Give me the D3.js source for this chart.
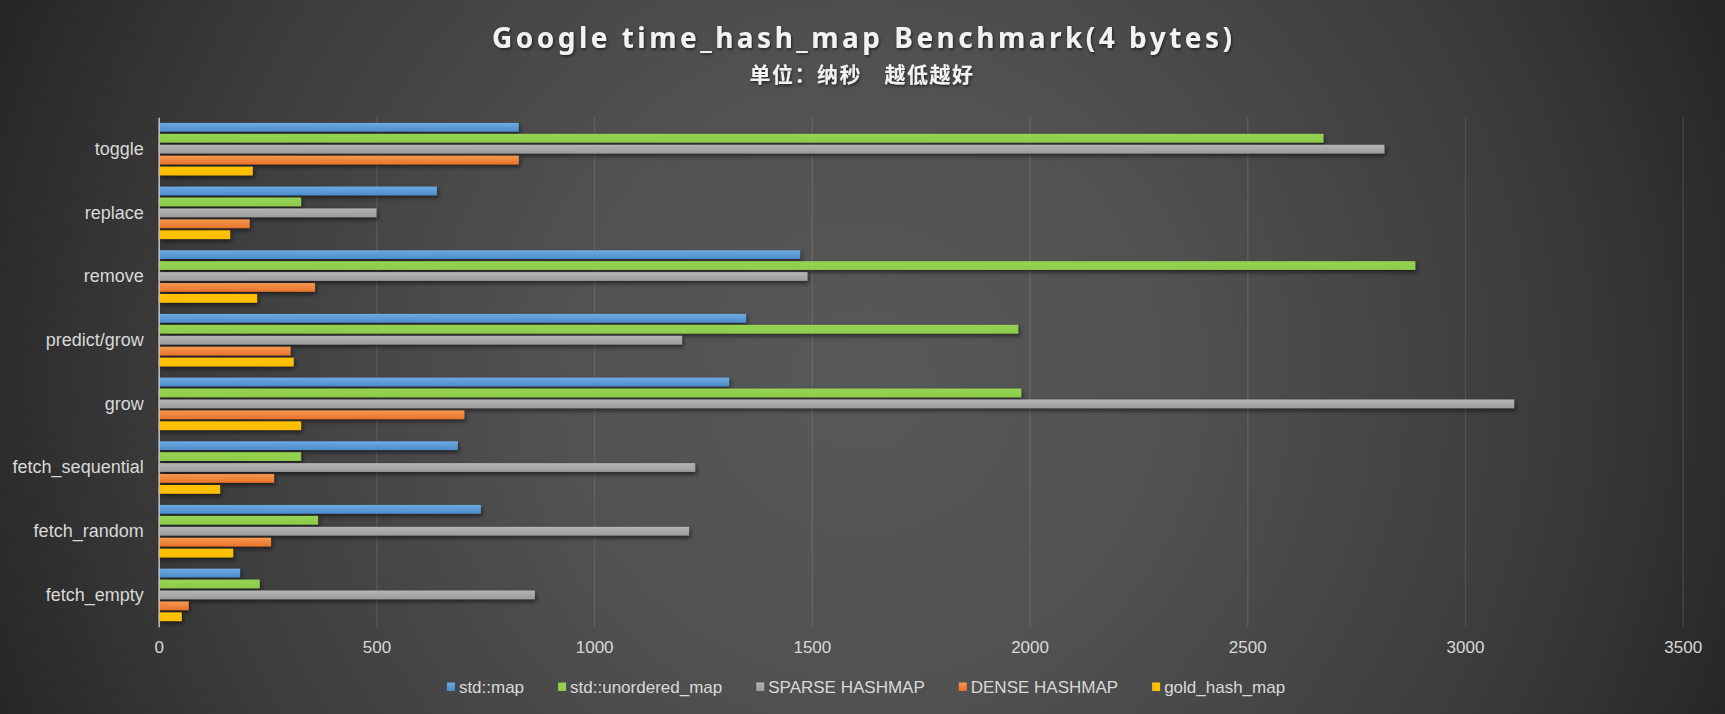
<!DOCTYPE html>
<html>
<head>
<meta charset="utf-8">
<script src="https://cdn.jsdelivr.net/npm/d3@7"></script>
<style>
  html, body { margin: 0; padding: 0; background: #2a2a2a; }
  svg { display: block; }
</style>
</head>
<body>
<svg id="chart" width="1725" height="714"></svg>
<script>
// ---- data ----
const categories = ["toggle", "replace", "remove", "predict/grow", "grow", "fetch_sequential", "fetch_random", "fetch_empty"];
const seriesNames = ["std::map", "std::unordered_map", "SPARSE HASHMAP", "DENSE HASHMAP", "gold_hash_map"];
const stdMap        = [827, 639, 1473, 1349, 1310, 687, 740, 187];
const stdUnordered  = [2675, 327, 2886, 1974, 1981, 327, 366, 232];
const sparseHashmap = [2815, 500, 1490, 1202, 3113, 1232, 1218, 864];
const denseHashmap  = [827, 209, 359, 303, 702, 265, 258, 69];
const goldHashMap   = [216, 164, 226, 310, 327, 141, 171, 53];
const xTicks = [0, 500, 1000, 1500, 2000, 2500, 3000, 3500];
const titleText = "Google time_hash_map Benchmark(4 bytes)";
const subtitleText = "单位：纳秒　越低越好";

const seriesValues = [stdMap, stdUnordered, sparseHashmap, denseHashmap, goldHashMap];
const colors = ["#5b9bd5", "#92d050", "#a5a5a5", "#ed7d31", "#ffc000"];
const colorsLight = ["#6eaae2", "#95d354", "#b5b5b5", "#f5994f", "#ffc200"];
const colorsDark = ["#4c8ccc", "#8ecb4b", "#9b9b9b", "#e8722a", "#fdbd00"];

// ---- layout ----
const W = 1725, H = 714;
const plot = { left: 158.7, right: 1682.7, top: 117.3, bottom: 626.7 };

const svg = d3.select("#chart");
const defs = svg.append("defs");

// background radial gradient
const bg = defs.append("radialGradient").attr("id", "bg")
  .attr("gradientUnits", "userSpaceOnUse")
  .attr("cx", 862).attr("cy", 380).attr("r", 920);
bg.append("stop").attr("offset", "0").attr("stop-color", "#585858");
bg.append("stop").attr("offset", "0.35").attr("stop-color", "#515151");
bg.append("stop").attr("offset", "0.75").attr("stop-color", "#3b3b3b");
bg.append("stop").attr("offset", "1").attr("stop-color", "#272727");

colors.forEach((c, i) => {
  const g = defs.append("linearGradient").attr("id", "bar" + i)
    .attr("x1", 0).attr("y1", 0).attr("x2", 0).attr("y2", 1);
  g.append("stop").attr("offset", "0").attr("stop-color", colorsLight[i]);
  g.append("stop").attr("offset", "1").attr("stop-color", colorsDark[i]);
});

const sh = defs.append("filter").attr("id", "shadow")
  .attr("x", "-5%").attr("y", "-50%").attr("width", "115%").attr("height", "250%");
sh.append("feDropShadow").attr("dx", 1.5).attr("dy", 2.5).attr("stdDeviation", 2)
  .attr("flood-color", "#000").attr("flood-opacity", 0.55);

const tsh = defs.append("filter").attr("id", "tshadow")
  .attr("x", "-5%").attr("y", "-30%").attr("width", "110%").attr("height", "170%");
tsh.append("feDropShadow").attr("dx", 1).attr("dy", 1.5).attr("stdDeviation", 1.5)
  .attr("flood-color", "#000").attr("flood-opacity", 0.6);

svg.append("rect").attr("width", W).attr("height", H).attr("fill", "url(#bg)");

// ---- scales ----
const x = d3.scaleLinear().domain([0, 3500]).range([plot.left, plot.right]);
const y0 = d3.scaleBand().domain(categories).range([plot.top, plot.bottom])
  .paddingInner(0.176).paddingOuter(0.088);
const y1 = d3.scaleBand().domain(seriesNames).range([0, y0.bandwidth()]).paddingInner(0.2);

// ---- grid + x axis ----
const xAxis = d3.axisBottom(x).tickValues(xTicks).tickFormat(d3.format("d"))
  .tickSize(-(plot.bottom - plot.top)).tickPadding(14.5);
const gx = svg.append("g").attr("transform", `translate(0,${plot.bottom})`).call(xAxis);
gx.select(".domain").remove();
gx.selectAll(".tick line").attr("stroke", "#ffffff").attr("stroke-opacity", 0.1).attr("stroke-width", 1.4);
gx.selectAll(".tick text").attr("fill", "#d9d9d9").attr("font-size", "17px")
  .attr("font-family", "'Liberation Sans', Arial, sans-serif");

// ---- bars ----
const groups = svg.append("g").selectAll("g").data(categories).join("g")
  .attr("transform", d => `translate(0,${y0(d)})`);
groups.selectAll("rect")
  .data((c, ci) => seriesNames.map((s, si) => ({ s, si, v: seriesValues[si][ci] })))
  .join("rect")
  .attr("x", x(0))
  .attr("y", d => y1(d.s))
  .attr("height", y1.bandwidth())
  .attr("width", d => x(d.v) - x(0))
  .attr("fill", d => `url(#bar${d.si})`)
  .attr("filter", "url(#shadow)");

// ---- y axis ----
const yAxis = d3.axisLeft(y0).tickSize(0).tickPadding(15);
const gy = svg.append("g").attr("transform", `translate(${plot.left},0)`).call(yAxis);
gy.select(".domain").attr("stroke", "#bfbfbf").attr("stroke-width", 1.5);
gy.selectAll(".tick text").attr("fill", "#d9d9d9").attr("font-size", "18px")
  .attr("font-family", "'Liberation Sans', Arial, sans-serif");

// ---- titles ----
svg.append("text").attr("x", 862).attr("y", 48).attr("text-anchor", "middle")
  .attr("font-family", "'Noto Sans', 'Open Sans', sans-serif").attr("font-weight", "bold")
  .attr("font-size", "28px").attr("fill", "#f2f2f2")
  .attr("textLength", 740).attr("lengthAdjust", "spacing")
  .attr("filter", "url(#tshadow)")
  .text(titleText);
svg.append("text").attr("x", 862).attr("y", 82).attr("text-anchor", "middle")
  .attr("font-family", "'Noto Sans CJK SC', sans-serif").attr("font-weight", "bold")
  .attr("font-size", "21px").attr("fill", "#f2f2f2")
  .attr("letter-spacing", "1.5px")
  .attr("filter", "url(#tshadow)")
  .text(subtitleText);

// ---- legend ----
const legend = svg.append("g");
let cx = 0;
seriesNames.forEach((name, i) => {
  const it = legend.append("g").attr("transform", `translate(${cx},0)`);
  it.append("rect").attr("x", 0).attr("y", -4.5).attr("width", 8).attr("height", 8.5)
    .attr("fill", `url(#bar${i})`);
  const t = it.append("text").attr("x", 12).attr("y", 0).attr("dy", "0.35em")
    .attr("fill", "#d9d9d9").attr("font-size", "17px")
    .attr("font-family", "'Liberation Sans', Arial, sans-serif").text(name);
  cx += 12 + t.node().getComputedTextLength() + 34;
});
const totalW = cx - 34;
legend.attr("transform", `translate(${866 - totalW / 2},687)`);
</script>
</body>
</html>
